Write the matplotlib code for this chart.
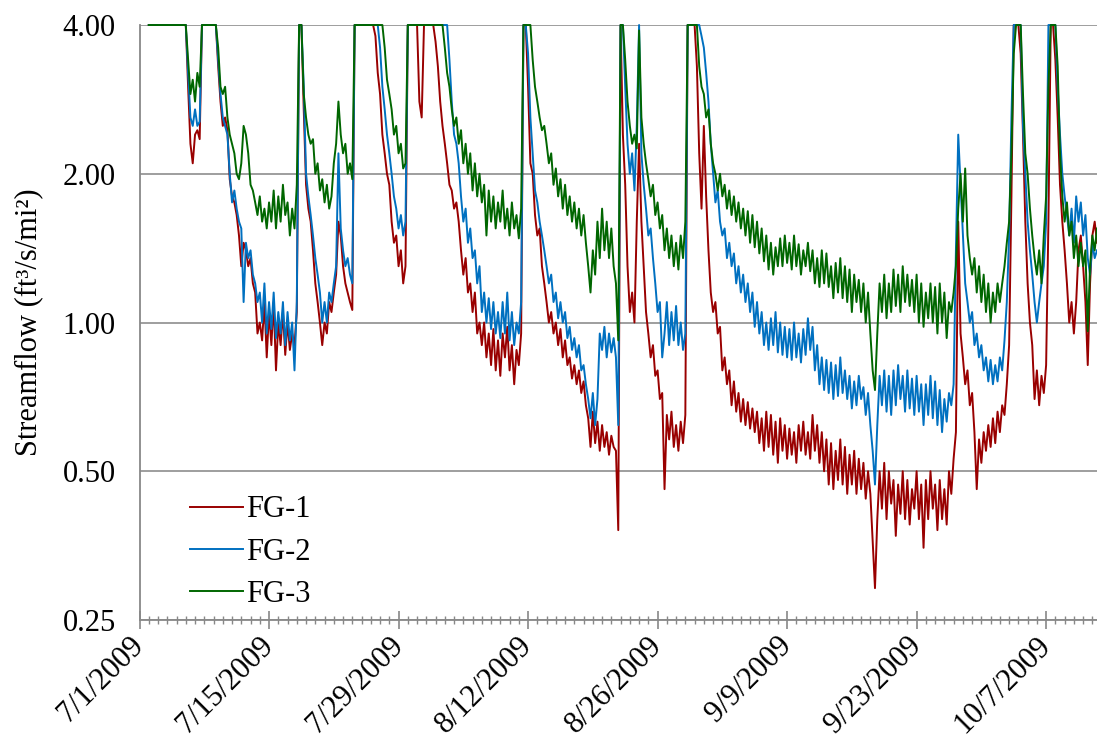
import numpy as np
import pandas as pd
import matplotlib
matplotlib.use('Agg')
import matplotlib.pyplot as plt
import matplotlib.dates as mdates
from matplotlib.ticker import FuncFormatter, NullLocator, FixedLocator

# Off-scale value (anything above the 4.00 axis limit)
T = 5.0

# 6-hourly readings starting 7/2/2009 00:00, eight values (two days) per row
series_start = '2009-07-02 00:00'

fg1 = [
    T, T, T, T, T, T, T, T,                                  # 7/2
    T, T, T, T, T, T, T, T,                                  # 7/4
    4.2, 3.0, 2.3, 2.1, 2.4, 2.45, 2.35, T,                  # 7/6
    T, T, T, T, T, T, 3.3, 2.8,                              # 7/8
    2.5, 2.6, 2.45, 1.95, 1.8, 1.75, 1.65, 1.5,              # 7/10
    1.3, 1.45, 1.4, 1.3, 1.35, 1.2, 1.15, 0.95,              # 7/12
    1.0, 0.92, 1.1, 0.85, 1.05, 0.9, 1.1, 0.8,               # 7/14
    1.0, 0.9, 1.05, 0.86, 1.0, 0.88, 0.95, 0.9,              # 7/16
    1.05, T, T, 2.7, 1.9, 1.7, 1.6, 1.4,                     # 7/18
    1.2, 1.1, 1.0, 0.9, 1.0, 0.95, 1.1, 1.05,                # 7/20
    1.15, 1.25, 1.6, 1.5, 1.3, 1.2, 1.15, 1.1,               # 7/22
    1.06, T, T, T, T, T, T, T,                               # 7/24
    T, T, 3.8, 3.2, 2.9, 2.4, 2.2, 2.0,                      # 7/26
    1.9, 1.6, 1.45, 1.5, 1.3, 1.4, 1.2, 1.3,                 # 7/28
    T, T, T, T, T, 2.8, 2.6, T,                              # 7/30
    T, T, T, T, 3.7, 3.3, 2.8, 2.5,                          # 8/1
    2.3, 2.1, 1.9, 1.85, 1.7, 1.75, 1.6, 1.4,                # 8/3
    1.25, 1.35, 1.15, 1.2, 1.05, 1.15, 0.95, 1.0,            # 8/5
    0.9, 1.0, 0.85, 0.95, 0.82, 0.97, 0.8, 0.92,             # 8/7
    0.78, 0.95, 0.85, 0.98, 0.8, 0.9, 0.75, 0.88,            # 8/9
    0.82, 0.95, T, T, 3.0, 2.1, 2.0, 1.65,                   # 8/11
    1.5, 1.55, 1.3, 1.2, 1.1, 1.0, 1.05, 0.95,               # 8/13
    1.0, 0.9, 0.97, 0.85, 0.92, 0.82, 0.85, 0.77,            # 8/15
    0.82, 0.75, 0.8, 0.72, 0.76, 0.68, 0.64, 0.56,           # 8/17
    0.66, 0.57, 0.63, 0.55, 0.62, 0.56, 0.6, 0.54,           # 8/19
    0.59, 0.56, 0.55, 0.38, T, 2.4, 1.9, 1.3,                # 8/21
    1.05, 1.15, 1.0, 1.6, 2.3, 1.6, 1.3, 1.05,               # 8/23
    0.95, 0.85, 0.9, 0.78, 0.8, 0.7, 0.72, 0.46,             # 8/25
    0.65, 0.58, 0.66, 0.56, 0.62, 0.55, 0.63, 0.57,          # 8/27
    0.65, T, T, T, T, 3.3, 2.2, 1.7,                         # 8/29
    2.5, 1.8, 1.4, 1.15, 1.05, 1.1, 0.95, 0.98,              # 8/31
    0.8, 0.85, 0.75, 0.8, 0.68, 0.76, 0.66, 0.72,            # 9/2
    0.63, 0.7, 0.62, 0.69, 0.61, 0.67, 0.6, 0.66,            # 9/4
    0.57, 0.64, 0.55, 0.66, 0.56, 0.65, 0.54, 0.63,          # 9/6
    0.52, 0.64, 0.55, 0.62, 0.53, 0.61, 0.54, 0.6,           # 9/8
    0.52, 0.62, 0.55, 0.63, 0.54, 0.6, 0.53, 0.65,           # 9/10
    0.55, 0.62, 0.52, 0.6, 0.5, 0.58, 0.47, 0.57,            # 9/12
    0.46, 0.55, 0.48, 0.58, 0.47, 0.56, 0.45, 0.54,          # 9/14
    0.47, 0.55, 0.45, 0.53, 0.46, 0.52, 0.44, 0.5,           # 9/16
    0.45, 0.36, 0.29, 0.4, 0.5, 0.42, 0.52, 0.4,             # 9/18
    0.5, 0.43, 0.48, 0.37, 0.47, 0.41, 0.5, 0.4,             # 9/20
    0.48, 0.39, 0.46, 0.42, 0.5, 0.4, 0.47, 0.35,            # 9/22
    0.48, 0.4, 0.5, 0.42, 0.47, 0.38, 0.48, 0.4,             # 9/24
    0.46, 0.39, 0.5, 0.45, 0.53, 0.6, 1.6, 0.95,             # 9/26
    0.85, 0.75, 0.8, 0.68, 0.72, 0.6, 0.46, 0.58,            # 9/28
    0.52, 0.6, 0.55, 0.62, 0.56, 0.64, 0.57, 0.66,           # 9/30
    0.6, 0.68, 0.65, 0.75, 0.9, 1.8, T, T,                   # 10/2
    T, 3.5, 2.4, 1.6, 1.2, 1.0, 0.9, 0.7,                    # 10/4
    0.8, 0.68, 0.78, 0.72, 0.82, 1.6, T, T,                  # 10/6
    3.4, 2.6, 1.9, 1.6, 1.4, 1.2, 1.0, 1.1,                  # 10/8
    0.95, 1.1, 1.4, 1.5, 1.3, 1.1, 0.82, 1.2,                # 10/10
    1.5, 1.6, 1.45,                                          # 10/12
]

fg2 = [
    T, T, T, T, T, T, T, T,                                  # 7/2
    T, T, T, T, T, T, T, T,                                  # 7/4
    4.3, 3.2, 2.6, 2.5, 2.7, 2.5, 2.55, T,                   # 7/6
    T, T, T, T, T, T, 3.4, 2.9,                              # 7/8
    2.6, 2.5, 2.4, 2.0, 1.75, 1.85, 1.7, 1.6,                # 7/10
    1.55, 1.1, 1.45, 1.35, 1.4, 1.25, 1.2, 1.1,              # 7/12
    1.15, 1.0, 1.2, 0.95, 1.1, 0.97, 1.15, 0.93,             # 7/14
    1.05, 0.95, 1.1, 0.9, 1.05, 0.92, 1.0, 0.8,              # 7/16
    1.1, T, T, 3.0, 2.0, 1.8, 1.65, 1.5,                     # 7/18
    1.35, 1.25, 1.15, 1.0, 1.1, 1.0, 1.15, 1.1,              # 7/20
    1.2, 1.3, 2.2, 1.55, 1.4, 1.3, 1.35, 1.25,               # 7/22
    1.2, T, T, T, T, T, T, T,                                # 7/24
    T, T, T, T, 3.6, 3.0, 2.7, 2.4,                          # 7/26
    2.2, 2.0, 1.8, 1.7, 1.55, 1.65, 1.5, 1.6,                # 7/28
    T, T, T, T, T, T, T, T,                                  # 7/30
    T, T, T, T, T, T, T, T,                                  # 8/1
    T, T, 3.4, 2.8, 2.4, 2.3, 2.1, 1.8,                      # 8/3
    1.6, 1.7, 1.45, 1.55, 1.35, 1.4, 1.2, 1.3,               # 8/5
    1.05, 1.15, 1.0, 1.12, 0.97, 1.1, 0.95, 1.05,            # 8/7
    0.93, 1.1, 0.95, 1.15, 0.92, 1.05, 0.9, 1.0,             # 8/9
    0.95, 1.1, T, T, 3.5, 2.6, 2.2, 1.85,                    # 8/11
    1.75, 1.6, 1.5, 1.4, 1.3, 1.2, 1.25, 1.1,                # 8/13
    1.15, 1.02, 1.1, 1.0, 1.05, 0.93, 0.98, 0.88,            # 8/15
    0.93, 0.85, 0.9, 0.8, 0.82, 0.75, 0.7, 0.64,             # 8/17
    0.72, 0.62, 0.7, 0.95, 0.88, 0.98, 0.85, 0.95,           # 8/19
    0.87, 0.93, 0.85, 0.62, T, T, 3.0, 2.3,                  # 8/21
    2.0, 2.2, 1.85, 2.5, T, 2.2, 1.9, 1.7,                   # 8/23
    1.5, 1.55, 1.35, 1.2, 1.05, 1.1, 0.85, 0.95,             # 8/25
    1.1, 0.9, 1.05, 0.92, 1.08, 0.9, 1.0, 0.88,              # 8/27
    0.95, T, T, T, T, T, T, 3.8,                             # 8/29
    3.6, 3.2, 2.8, 2.3, 2.0, 1.75, 1.85, 1.6,                # 8/31
    1.5, 1.55, 1.35, 1.45, 1.3, 1.38, 1.2, 1.3,              # 9/2
    1.15, 1.25, 1.1, 1.2, 1.05, 1.15, 0.98, 1.1,             # 9/4
    0.95, 1.05, 0.9, 1.0, 0.88, 1.02, 0.9, 1.05,             # 9/6
    0.87, 1.0, 0.86, 0.98, 0.85, 0.97, 0.84, 1.0,            # 9/8
    0.85, 0.95, 0.83, 0.97, 0.86, 1.02, 0.88, 0.98,          # 9/10
    0.8, 0.9, 0.75, 0.85, 0.73, 0.84, 0.72, 0.83,            # 9/12
    0.7, 0.82, 0.71, 0.85, 0.72, 0.8, 0.7, 0.78,             # 9/14
    0.67, 0.76, 0.68, 0.78, 0.7, 0.74, 0.65, 0.72,           # 9/16
    0.62, 0.55, 0.47, 0.62, 0.78, 0.68, 0.8, 0.66,           # 9/18
    0.78, 0.65, 0.8, 0.68, 0.82, 0.7, 0.78, 0.66,            # 9/20
    0.8, 0.67, 0.77, 0.65, 0.78, 0.66, 0.75, 0.62,           # 9/22
    0.75, 0.65, 0.78, 0.64, 0.76, 0.62, 0.73, 0.6,           # 9/24
    0.7, 0.63, 0.72, 0.68, 0.75, 1.4, 2.4, 1.9,              # 9/26
    1.5, 1.2, 1.1, 1.0, 1.05, 0.9, 0.95, 0.85,               # 9/28
    0.9, 0.8, 0.85, 0.76, 0.84, 0.75, 0.82, 0.76,            # 9/30
    0.85, 0.8, 0.92, 1.1, 1.5, 2.6, T, T,                    # 10/2
    T, T, 2.5, 2.0, 1.6, 1.4, 1.25, 1.1,                     # 10/4
    1.0, 1.1, 1.2, 1.3, 1.6, T, T, T,                        # 10/6
    T, 3.0, 2.4, 2.0, 1.8, 1.65, 1.5, 1.7,                   # 10/8
    1.45, 1.8, 1.6, 1.75, 1.5, 1.65, 1.35, 1.25,             # 10/10
    1.45, 1.35, 1.4,                                         # 10/12
]

fg3 = [
    T, T, T, T, T, T, T, T,                                  # 7/2
    T, T, T, T, T, T, T, T,                                  # 7/4
    T, 3.4, 2.9, 3.1, 2.8, 3.2, 3.0, T,                      # 7/6
    T, T, T, T, T, T, 3.6, 3.0,                              # 7/8
    2.9, 3.0, 2.6, 2.4, 2.3, 2.2, 2.0, 1.95,                 # 7/10
    2.1, 2.5, 2.4, 2.2, 1.9, 1.85, 1.75, 1.65,               # 7/12
    1.8, 1.6, 1.7, 1.55, 1.75, 1.6, 1.85, 1.55,              # 7/14
    1.8, 1.6, 1.9, 1.65, 1.75, 1.5, 1.7, 1.55,               # 7/16
    1.9, T, T, 2.9, 2.6, 2.4, 2.3, 2.35,                     # 7/18
    2.0, 2.1, 1.85, 1.95, 1.75, 1.9, 1.7, 1.8,               # 7/20
    2.1, 2.3, 2.8, 2.4, 2.2, 2.3, 2.0, 2.1,                  # 7/22
    1.95, T, T, T, T, T, T, T,                               # 7/24
    T, T, T, T, T, T, 3.6, 3.1,                              # 7/26
    2.9, 2.7, 2.4, 2.5, 2.2, 2.3, 2.05, 2.1,                 # 7/28
    T, T, T, T, T, T, T, T,                                  # 7/30
    T, T, T, T, T, T, T, T,                                  # 8/1
    3.6, 3.2, 3.0, 2.7, 2.5, 2.6, 2.3, 2.45,                 # 8/3
    2.1, 2.3, 2.0, 2.2, 1.85, 2.1, 1.8, 2.0,                 # 8/5
    1.75, 1.9, 1.5, 1.85, 1.6, 1.8, 1.55, 1.75,              # 8/7
    1.6, 1.85, 1.55, 1.7, 1.5, 1.75, 1.55, 1.65,             # 8/9
    1.48, 1.7, T, T, T, T, 3.4, 3.0,                         # 8/11
    2.8, 2.6, 2.45, 2.5, 2.3, 2.1, 2.2, 1.9,                 # 8/13
    2.05, 1.8, 1.95, 1.7, 1.9, 1.65, 1.8, 1.6,               # 8/15
    1.75, 1.55, 1.7, 1.5, 1.65, 1.45, 1.3, 1.15,             # 8/17
    1.4, 1.25, 1.6, 1.35, 1.7, 1.4, 1.6, 1.35,               # 8/19
    1.55, 1.3, 1.2, 0.92, T, T, 3.4, 2.8,                    # 8/21
    2.5, 2.3, 2.4, 2.25, 3.9, 2.6, 2.3, 2.1,                 # 8/23
    1.95, 1.8, 1.9, 1.65, 1.75, 1.55, 1.65, 1.4,             # 8/25
    1.55, 1.35, 1.5, 1.3, 1.45, 1.28, 1.5, 1.35,             # 8/27
    1.6, T, T, T, T, T, 3.3, 3.0,                            # 8/29
    2.9, 2.6, 2.7, 2.3, 2.1, 2.0, 1.85, 2.0,                 # 8/31
    1.8, 1.9, 1.7, 1.85, 1.65, 1.8, 1.6, 1.75,               # 9/2
    1.55, 1.7, 1.5, 1.68, 1.45, 1.65, 1.42, 1.6,             # 9/4
    1.38, 1.55, 1.33, 1.5, 1.28, 1.45, 1.25, 1.42,           # 9/6
    1.3, 1.48, 1.3, 1.5, 1.32, 1.45, 1.28, 1.5,              # 9/8
    1.3, 1.44, 1.25, 1.4, 1.3, 1.45, 1.27, 1.4,              # 9/10
    1.2, 1.35, 1.18, 1.4, 1.2, 1.38, 1.18, 1.3,              # 9/12
    1.12, 1.32, 1.15, 1.35, 1.12, 1.3, 1.1, 1.28,            # 9/14
    1.05, 1.25, 1.1, 1.22, 1.05, 1.2, 1.0, 1.15,             # 9/16
    0.95, 0.8, 0.73, 0.95, 1.2, 1.05, 1.25, 1.02,            # 9/18
    1.2, 1.05, 1.28, 1.08, 1.25, 1.05, 1.3, 1.1,             # 9/20
    1.25, 1.08, 1.22, 1.05, 1.25, 1.0, 1.2, 0.98,            # 9/22
    1.15, 1.02, 1.2, 1.0, 1.18, 0.95, 1.2, 1.0,              # 9/24
    1.15, 0.93, 1.1, 1.05, 1.15, 1.3, 1.7, 2.0,              # 9/26
    1.6, 2.05, 1.5, 1.35, 1.25, 1.35, 1.15, 1.3,             # 9/28
    1.1, 1.25, 1.05, 1.2, 1.0, 1.15, 1.05, 1.2,              # 9/30
    1.1, 1.2, 1.3, 1.45, 1.6, 2.2, 3.5, T,                   # 10/2
    T, T, 2.9, 2.2, 2.0, 1.7, 1.5, 1.35,                     # 10/4
    1.25, 1.4, 1.2, 1.5, 1.8, 3.0, T, T,                     # 10/6
    T, 3.3, 2.2, 1.8, 1.6, 1.75, 1.5, 1.6,                   # 10/8
    1.35, 1.5, 1.3, 1.45, 1.3, 1.4, 0.96, 1.3,               # 10/10
    1.5, 1.4, 1.55,                                          # 10/12
]

series_names = ['FG-1', 'FG-2', 'FG-3']
series_values = [fg1, fg2, fg3]
series_colors = ['#990000', '#0070C0', '#006600']

y_ticks = [0.25, 0.5, 1.0, 2.0, 4.0]
x_start = pd.Timestamp('2009-07-01')
x_end = pd.Timestamp('2009-10-12 12:00')

plt.rcParams['font.family'] = ['Liberation Serif', 'DejaVu Serif']
font_size = 22

fig = plt.figure(figsize=(10.97, 7.38), dpi=100)
ax = fig.add_axes([0.1272, 0.1599, 0.8728, 0.8062])

# Values above the axis are drawn along the top edge, like the original chart
for name, vals, color in zip(series_names, series_values, series_colors):
    times = pd.date_range(series_start, periods=len(vals), freq='6h')
    ax.plot(times, np.minimum(vals, y_ticks[-1]), color=color, lw=1.4,
            label=name, clip_on=False)

# Log-2 y axis
ax.set_yscale('log', base=2)
ax.set_ylim(y_ticks[0], y_ticks[-1])
ax.yaxis.set_major_locator(FixedLocator(y_ticks))
ax.yaxis.set_minor_locator(NullLocator())
ax.yaxis.set_major_formatter(FuncFormatter(lambda v, p: f'{v:.2f}'))
ax.tick_params(axis='y', length=0, pad=17, labelsize=font_size)
ax.grid(axis='y', color='#969696', lw=1.3)
ax.set_axisbelow(True)
ax.set_ylabel('Streamflow (ft³/s/mi²)', fontsize=font_size, labelpad=14)

# Date axis: labels every two weeks, small ticks every day
ax.set_xlim(x_start, x_end)
major_days = pd.date_range(x_start, x_end, freq='14D')
ax.xaxis.set_major_locator(FixedLocator(mdates.date2num(major_days)))
ax.xaxis.set_minor_locator(mdates.DayLocator())

def date_label(v, p):
    d = mdates.num2date(v)
    return f'{d.month}/{d.day}/{d.year}'

ax.xaxis.set_major_formatter(FuncFormatter(date_label))
ax.tick_params(axis='x', which='major', direction='inout', length=13, width=1.2,
               color='#888888', labelsize=font_size, pad=9)
ax.tick_params(axis='x', which='minor', direction='inout', length=6, width=1.0,
               color='#888888')
for lab in ax.get_xticklabels():
    lab.set_rotation(45)
    lab.set_ha('right')
    lab.set_va('center')
    lab.set_rotation_mode('anchor')

for side in ['top', 'right']:
    ax.spines[side].set_visible(False)
for side in ['left', 'bottom']:
    ax.spines[side].set_color('#888888')
    ax.spines[side].set_linewidth(1.3)

ax.legend(loc='upper left', bbox_to_anchor=(0.037, 0.235), frameon=False,
          fontsize=font_size, handlelength=1.74, handletextpad=0.1,
          labelspacing=0.43, borderpad=0)

fig.savefig('out.png', dpi=100)
